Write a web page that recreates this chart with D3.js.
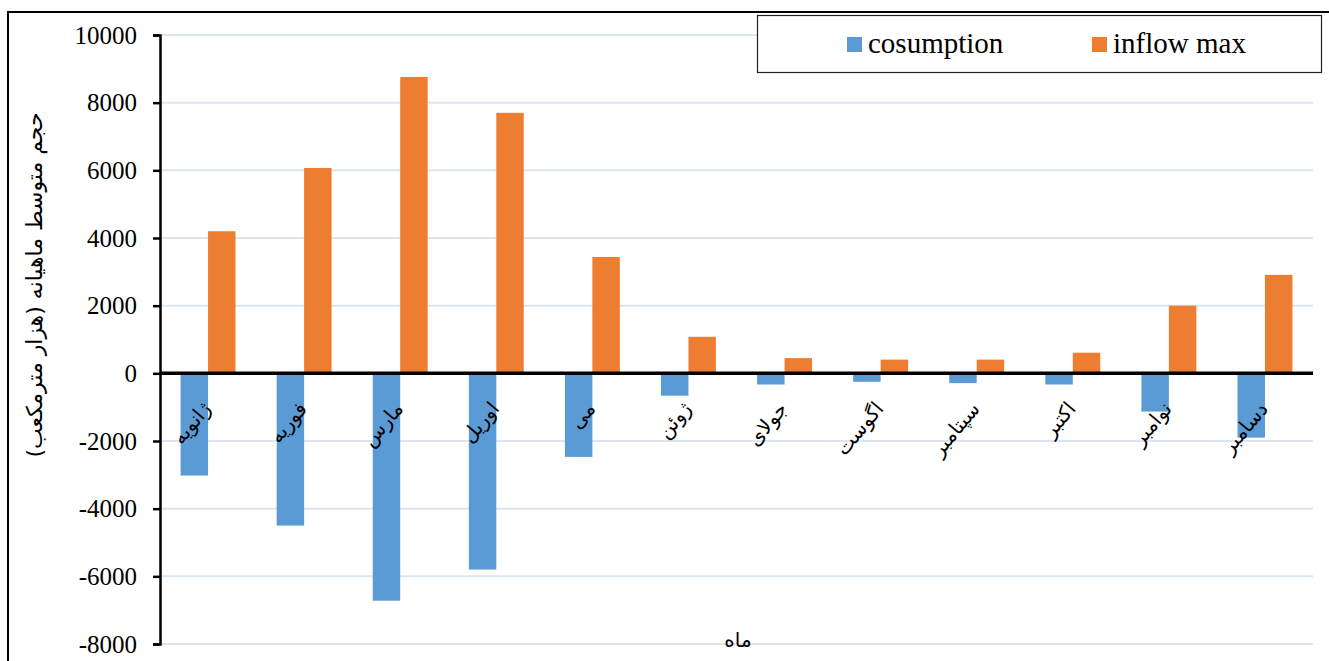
<!DOCTYPE html>
<html>
<head>
<meta charset="utf-8">
<script src="https://cdn.jsdelivr.net/npm/d3@7"></script>
<style>
  html, body { margin: 0; padding: 0; background: #fff; }
  svg { display: block; }
</style>
</head>
<body>
<svg id="chart" width="1329" height="661"></svg>
<script>
// Months (left to right, January .. December)
const months = ["ژانویه", "فوریه", "مارس", "اوریل", "می", "ژوئن", "جولای", "اگوست", "سپتامبر", "اکتبر", "نوامبر", "دسامبر"];
// Series names
const seriesNames = ["cosumption", "inflow max"];
// Monthly average volume (thousand m³)
const consumption = [-3020, -4500, -6720, -5800, -2470, -660, -330, -250, -290, -330, -1130, -1900];
const inflowMax = [4200, 6070, 8760, 7700, 3440, 1080, 450, 405, 405, 610, 2000, 2910];
// Y-axis ticks
const yTicks = [10000, 8000, 6000, 4000, 2000, 0, -2000, -4000, -6000, -8000];
const seriesColors = ["#5B9BD5", "#ED7D31"];
const yTitle = "حجم متوسط ماهیانه (هزار مترمکعب)";
const xTitle = "ماه";

const serif = "'Liberation Serif', 'Times New Roman', serif";
const persian = "'DejaVu Sans', sans-serif";

const svg = d3.select("#chart");
const plot = { left: 160, right: 1313, top: 35, bottom: 644 };

const rows = months.map((m, i) => ({ month: m, values: [consumption[i], inflowMax[i]] }));

const y = d3.scaleLinear().domain([-8000, 10000]).range([plot.bottom, plot.top]);
const x0 = d3.scaleBand().domain(months).range([plot.left, plot.right]).paddingInner(0).paddingOuter(0);
const x1 = d3.scaleBand().domain(seriesNames).range([0, x0.bandwidth()]).paddingInner(0).paddingOuter(0.75);

// Outer chart frame
svg.append("rect")
  .attr("x", 8).attr("y", 12).attr("width", 1400).attr("height", 700)
  .attr("fill", "none").attr("stroke", "#000").attr("stroke-width", 2);

// Horizontal gridlines
svg.append("g").selectAll("line")
  .data(yTicks.filter(t => t !== 0))
  .join("line")
  .attr("x1", plot.left).attr("x2", plot.right)
  .attr("y1", d => y(d)).attr("y2", d => y(d))
  .attr("stroke", "#dce6f2").attr("stroke-width", 2);

// Bars
const groups = svg.append("g").selectAll("g")
  .data(rows)
  .join("g")
  .attr("transform", d => `translate(${x0(d.month)},0)`);

groups.selectAll("rect")
  .data(d => d.values.map((v, k) => ({ key: seriesNames[k], value: v, k })))
  .join("rect")
  .attr("x", d => x1(d.key))
  .attr("width", x1.bandwidth())
  .attr("y", d => y(Math.max(0, d.value)))
  .attr("height", d => Math.abs(y(d.value) - y(0)))
  .attr("fill", d => seriesColors[d.k]);

// Y axis
const yAxis = d3.axisLeft(y).tickValues(yTicks).tickSize(7).tickPadding(16).tickFormat(d => String(d));
const yg = svg.append("g").attr("transform", `translate(${plot.left},0)`).call(yAxis);
yg.attr("font-family", null).attr("font-size", null);
yg.select(".domain").attr("stroke", "#000").attr("stroke-width", 2.5);
yg.selectAll(".tick line").attr("stroke", "#000").attr("stroke-width", 2.5);
yg.selectAll(".tick text")
  .style("font-family", serif)
  .style("font-size", "25px")
  .attr("fill", "#000");

// Zero baseline
svg.append("line")
  .attr("x1", plot.left).attr("x2", plot.right)
  .attr("y1", y(0)).attr("y2", y(0))
  .attr("stroke", "#000").attr("stroke-width", 3.5);

// Month labels, rotated
svg.append("g").selectAll("text")
  .data(months)
  .join("text")
  .attr("transform", d => `translate(${x0(d) + x0.bandwidth() / 2 + 4},${y(0) + 36}) rotate(-50)`)
  .attr("text-anchor", "end")
  .style("font-family", persian)
  .style("font-size", "20px")
  .attr("fill", "#000")
  .text(d => d);

// Axis titles
svg.append("text")
  .attr("transform", `translate(42,${(108 + 462) / 2}) rotate(-90)`)
  .attr("text-anchor", "middle")
  .style("font-family", persian)
  .style("font-size", "22px")
  .attr("fill", "#000")
  .text(yTitle);

svg.append("text")
  .attr("x", 738).attr("y", 647)
  .attr("text-anchor", "middle")
  .style("font-family", persian)
  .style("font-size", "20px")
  .attr("fill", "#000")
  .text(xTitle);

// Legend
const legend = svg.append("g");
legend.append("rect")
  .attr("x", 757.5).attr("y", 15.5).attr("width", 564).attr("height", 57)
  .attr("fill", "#fff").attr("stroke", "#222").attr("stroke-width", 1.2);
const legendX = [847, 1092];
const items = legend.selectAll("g.item")
  .data(seriesNames)
  .join("g")
  .attr("class", "item")
  .attr("transform", (d, i) => `translate(${legendX[i]},0)`);
items.append("rect")
  .attr("x", 0).attr("y", 37).attr("width", 15).attr("height", 15)
  .attr("fill", (d, i) => seriesColors[i]);
items.append("text")
  .attr("x", 21).attr("y", 53)
  .style("font-family", serif)
  .style("font-size", "29px")
  .attr("fill", "#000")
  .text(d => d);
</script>
</body>
</html>
